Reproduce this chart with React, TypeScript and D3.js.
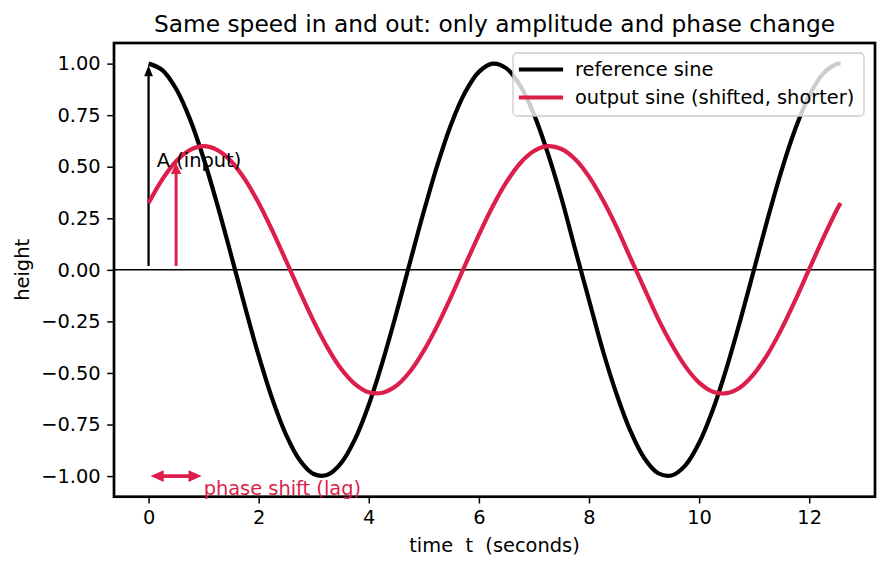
import * as d3 from 'd3';
import { useEffect, useRef } from 'react';

// heights, every 0.25 s (plus the last sample at 12.57 s)
const sampleT = [
  0, 0.25, 0.5, 0.75, 1, 1.25, 1.5, 1.75, 2, 2.25, 2.5, 2.75, 3, 3.25, 3.5, 3.75, 4, 4.25,
  4.5, 4.75, 5, 5.25, 5.5, 5.75, 6, 6.25, 6.5, 6.75, 7, 7.25, 7.5, 7.75, 8, 8.25, 8.5, 8.75,
  9, 9.25, 9.5, 9.75, 10, 10.25, 10.5, 10.75, 11, 11.25, 11.5, 11.75, 12, 12.25, 12.5, 12.57,
];
const refH = [
  1.0, 0.969, 0.878, 0.732, 0.54, 0.315, 0.071, -0.178, -0.416, -0.628, -0.801, -0.924, -0.99, -0.994,
  -0.936, -0.821, -0.654, -0.446, -0.211, 0.038, 0.284, 0.512, 0.709, 0.861, 0.96, 1.0, 0.977, 0.893,
  0.754, 0.567, 0.347, 0.098, -0.146, -0.39, -0.602, -0.78, -0.911, -0.985, -0.997, -0.948, -0.839, -0.678,
  -0.475, -0.243, 0.004, 0.252, 0.484, 0.685, 0.844, 0.95, 0.998, 1.0,
];
const outH = [
  0.324, 0.439, 0.527, 0.581, 0.6, 0.581, 0.527, 0.439, 0.324, 0.189, 0.042, -0.107, -0.25, -0.377,
  -0.481, -0.554, -0.594, -0.596, -0.562, -0.493, -0.392, -0.268, -0.127, 0.023, 0.17, 0.307, 0.425, 0.517,
  0.576, 0.6, 0.586, 0.536, 0.452, 0.34, 0.208, 0.059, -0.087, -0.234, -0.361, -0.468, -0.547, -0.591,
  -0.598, -0.569, -0.503, -0.407, -0.285, -0.146, 0.003, 0.151, 0.29, 0.324,
];

const xTicks = [0, 2, 4, 6, 8, 10, 12];
const yTicks = [-1, -0.75, -0.5, -0.25, 0, 0.25, 0.5, 0.75, 1];
const seriesNames = ['reference sine', 'output sine (shifted, shorter)'];
const seriesColors = ['#000000', '#dc1e4b'];

// annotation anchors (data units)
const ampArrow = { t: 0, from: 0, to: 1 };
const outArrow = { t: 0.5, from: 0, to: 0.527 };
const lagArrow = { y: -1.0, from: 0, to: 1 };
const ampLabel = { t: 0.15, y: 0.5 };
const lagLabel = { t: 1.0, y: -1.1 };

export default function App() {
  const chartRef = useRef<SVGSVGElement>(null);

  const width = 887;
  const height = 569;
  const margin = { top: 43, bottom: 72.3, left: 114, right: 12 };
  const font = 'DejaVu Sans, sans-serif';
  const fs = 19.4;

  const xScale = d3.scaleLinear().domain([-0.628, 13.195]).range([margin.left, width - margin.right]);
  const yScale = d3.scaleLinear().domain([-1.1, 1.1]).range([height - margin.bottom, margin.top]);

  useEffect(() => {
    const svg = d3.select(chartRef.current);

    const xAxis = d3.axisBottom(xScale).tickValues(xTicks).tickSize(6.8).tickPadding(6.5).tickSizeOuter(0);
    const yAxis = d3
      .axisLeft(yScale)
      .tickValues(yTicks)
      .tickSize(6.8)
      .tickPadding(6.5)
      .tickSizeOuter(0)
      .tickFormat((d) => d3.format('.2f')(d as number).replace('-', '\u2212'));

    svg.select('#xAxis').attr('transform', `translate(0,${height - margin.bottom})`).call(xAxis as any);
    svg.select('#yAxis').attr('transform', `translate(${margin.left},0)`).call(yAxis as any);

    svg.selectAll('#xAxis .domain, #yAxis .domain').remove();
    svg.selectAll('.tick line').attr('stroke', '#000').attr('stroke-width', 1.5);
    svg
      .selectAll('.tick text')
      .attr('fill', '#000')
      .style('font-family', font)
      .style('font-size', `${fs}px`);
  }, []);

  // smooth line through the sampled heights
  const line = d3
    .line<[number, number]>()
    .x((d) => xScale(d[0]))
    .y((d) => yScale(d[1]))
    .curve(d3.curveCatmullRom.alpha(0.5));

  const refPts = sampleT.map((t, i) => [t, refH[i]] as [number, number]);
  const outPts = sampleT.map((t, i) => [t, outH[i]] as [number, number]);

  const plotL = margin.left;
  const plotR = width - margin.right;
  const plotT = margin.top;
  const plotB = height - margin.bottom;

  // filled arrow head, tip at (x, y), pointing along (dx, dy)
  const head = (x: number, y: number, dx: number, dy: number, len: number, half: number) => {
    const px = -dy;
    const py = dx;
    return `M${x - dx * len + px * half},${y - dy * len + py * half} L${x},${y} L${x - dx * len - px * half},${y - dy * len - py * half} Z`;
  };
  const shrink = 3.9;

  const ax = xScale(ampArrow.t);
  const ay1 = yScale(ampArrow.from) - shrink;
  const ay2 = yScale(ampArrow.to) + shrink;
  const ox = xScale(outArrow.t);
  const oy1 = yScale(outArrow.from) - shrink;
  const oy2 = yScale(outArrow.to) + shrink;
  const ly = yScale(lagArrow.y);
  const lx1 = xScale(lagArrow.from) + shrink + 1;
  const lx2 = xScale(lagArrow.to) - shrink - 1;

  const legX = 513;
  const legY = 53;

  return (
    <svg
      ref={chartRef}
      width={width}
      height={height}
      style={{ position: 'absolute', left: 0, top: 0, background: '#fff' }}
    >
      <defs>
        <clipPath id='plotClip'>
          <rect x={plotL} y={plotT} width={plotR - plotL} height={plotB - plotT} />
        </clipPath>
      </defs>

      {/* zero line */}
      <line x1={plotL} x2={plotR} y1={yScale(0)} y2={yScale(0)} stroke='#000' strokeWidth={1.5} />

      {/* amplitude arrows */}
      <line x1={ax} x2={ax} y1={ay1} y2={ay2 + 4} stroke='#000' strokeWidth={2.3} />
      <path d={head(ax, ay2, 0, -1, 8, 3.2)} fill='#000' stroke='#000' strokeWidth={1.6} strokeLinejoin='miter' />
      <line x1={ox} x2={ox} y1={oy1} y2={oy2 + 4} stroke={seriesColors[1]} strokeWidth={3} />
      <path d={head(ox, oy2, 0, -1, 8, 3.6)} fill={seriesColors[1]} stroke={seriesColors[1]} strokeWidth={2} />

      <g clipPath='url(#plotClip)'>
        <path d={line(refPts) ?? ''} fill='none' stroke={seriesColors[0]} strokeWidth={4.2} strokeLinejoin='round' />
        <path d={line(outPts) ?? ''} fill='none' stroke={seriesColors[1]} strokeWidth={4.2} strokeLinejoin='round' />
      </g>

      <text x={xScale(ampLabel.t)} y={yScale(ampLabel.y)} fontFamily={font} fontSize={fs} fill='#000'>
        A (input)
      </text>

      {/* phase shift arrow */}
      <line x1={lx1 + 4} x2={lx2 - 4} y1={ly} y2={ly} stroke={seriesColors[1]} strokeWidth={3.6} />
      <path d={head(lx2, ly, 1, 0, 9, 4)} fill={seriesColors[1]} stroke={seriesColors[1]} strokeWidth={2.4} />
      <path d={head(lx1, ly, -1, 0, 9, 4)} fill={seriesColors[1]} stroke={seriesColors[1]} strokeWidth={2.4} />

      {/* legend */}
      <rect x={legX} y={legY} width={351} height={63} rx={4} fill='#fff' fillOpacity={0.8} stroke='#cccccc' strokeWidth={1.3} />
      {seriesNames.map((name, i) => (
        <g key={name}>
          <line
            x1={legX + 8}
            x2={legX + 48}
            y1={legY + 16.5 + i * 28}
            y2={legY + 16.5 + i * 28}
            stroke={seriesColors[i]}
            strokeWidth={4.2}
            strokeLinecap='square'
          />
          <text x={legX + 62} y={legY + 16.5 + i * 28} dy='0.36em' fontFamily={font} fontSize={fs} fill='#000'>
            {name}
          </text>
        </g>
      ))}

      {/* frame */}
      <rect x={plotL} y={plotT} width={plotR - plotL} height={plotB - plotT} fill='none' stroke='#000' strokeWidth={2.7} />

      <text x={xScale(lagLabel.t)} y={yScale(lagLabel.y) - 1.5} fontFamily={font} fontSize={fs} fill={seriesColors[1]}>
        phase shift (lag)
      </text>

      <g id='xAxis' />
      <g id='yAxis' />

      <text x={(plotL + plotR) / 2} y={32} textAnchor='middle' fontFamily={font} fontSize={23.3} fill='#000'>
        Same speed in and out: only amplitude and phase change
      </text>
      <text
        x={(plotL + plotR) / 2}
        y={552}
        textAnchor='middle'
        fontFamily={font}
        fontSize={fs}
        fill='#000'
        style={{ whiteSpace: 'pre' }}
      >
        {'time  t  (seconds)'}
      </text>
      <text
        transform={`translate(29,${(plotT + plotB) / 2}) rotate(-90)`}
        textAnchor='middle'
        fontFamily={font}
        fontSize={fs}
        fill='#000'
      >
        height
      </text>
    </svg>
  );
}
